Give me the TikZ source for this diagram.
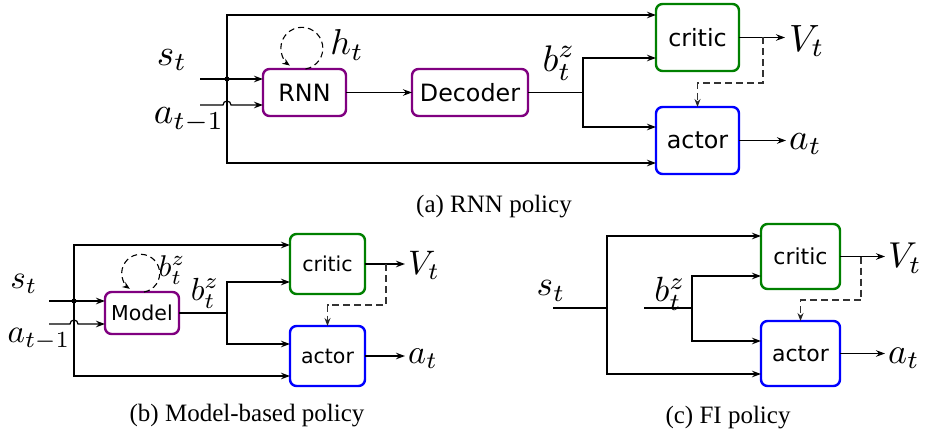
\RequirePackage{fix-cm}
\documentclass[tikz,border=0pt]{standalone}
\usepackage{fontspec}
\setmainfont{Liberation Serif}
\newfontfamily\boxfont{DejaVu Sans}
\usetikzlibrary{arrows.meta,calc}
\definecolor{cpurple}{RGB}{128,0,128}
\definecolor{cgreen}{RGB}{0,128,0}
\definecolor{cblue}{RGB}{0,0,255}
\newcommand{\mlab}[2]{\scalebox{#1}{$#2$}}
\begin{document}
\begin{tikzpicture}[x=1pt,y=-1pt,
  box/.style={draw, rounded corners=6.5pt, line width=2.4pt, inner sep=0pt, outer sep=0pt},
  boxa/.style={box, font=\boxfont\fontsize{23.8}{26}\selectfont},
  boxb/.style={box, font=\boxfont\fontsize{20.5}{23}\selectfont},
  boxc/.style={box, font=\boxfont\fontsize{22}{24}\selectfont},
  lab/.style={inner sep=0pt},
  captxt/.style={inner sep=0pt, font=\fontsize{25}{27}\selectfont},
  ln/.style={line width=1.2pt},
  con/.style={line width=1.2pt, -{Stealth[length=9pt,width=6.5pt]}},
  dsh/.style={line width=1.2pt, draw=black!80, dash pattern=on 7pt off 4pt, -{Stealth[length=8pt,width=6pt,color=black!85]}},
  loopdsh/.style={line width=1.1pt, dash pattern=on 6pt off 4pt, -{Stealth[length=7.5pt,width=6pt]}},
  dot/.style={circle, fill, inner sep=0pt, minimum size=5pt}]
\useasboundingbox (0,0) rectangle (925,433);

% ---------------- (a) RNN policy ----------------
\node[boxa, draw=cpurple, minimum width=83, minimum height=47] (rnn) at (304.5,92.5) {RNN};
\node[boxa, draw=cpurple, minimum width=116, minimum height=47] (dec) at (470,92.5) {Decoder};
\node[boxa, draw=cgreen, minimum width=83, minimum height=67] (crA) at (697.5,37.5) {critic};
\node[boxa, draw=cblue, minimum width=83, minimum height=67] (acA) at (697.5,140.5) {actor};

\coordinate (aS) at (227,79);
\coordinate (aT) at (227,15);
\coordinate (aBo) at (227,163);
\coordinate (sInA) at (200,79);
\coordinate (aInA) at (200,105);
\node[dot] (dA) at (aS) {};

\draw[con] (sInA) -- (sInA -| rnn.west);
\draw[con] (aInA) -- ++(23,0) arc[start angle=180, end angle=0, radius=4pt] -- (aInA -| rnn.west);
\draw[con] (aS) -- (aT) -- (aT -| crA.west);
\draw[con] (aS) -- (aBo) -- (aBo -| acA.west);
\draw[con] (rnn) -- (dec);

\coordinate (aB) at (583,92.5);
\coordinate (aBt) at (583,58);
\coordinate (aBb) at (583,127);
\draw[ln] (dec) -- (aB);
\draw[con] (aB) -- (aBt) -- (aBt -| crA.west);
\draw[con] (aB) -- (aBb) -- (aBb -| acA.west);

\node[lab] (stA) at (172,60) {\mlab{3.7}{s_t}};
\node[lab] (atmA) at (189,120) {\mlab{3.7}{a_{t-1}}};
\node[lab] (ht) at (347,45) {\mlab{3.6}{h_t}};
\node[lab] (bzA) at (559,63) {\mlab{3.7}{b_t^z}};
\node[lab, anchor=west] (VA) at (789,41) {\mlab{3.8}{V_t}};
\node[lab, anchor=west] (aoA) at (789,144) {\mlab{3.7}{a_t}};
\draw[con] (crA) -- ($(crA -| VA.west)+(-4,0)$);
\draw[con] (acA) -- ($(acA -| aoA.west)+(-3,0)$);

\coordinate (aD) at (763,37.5);
\draw[dsh] (aD) -- ++(0,45.5) -| (acA.north);
\draw[loopdsh] ([xshift=1pt]rnn.north) arc[start angle=-80, end angle=235, radius=21pt];

\node[captxt] (capA) at (494,207) {(a) RNN policy};

% ---------------- (b) Model-based policy ----------------
\node[boxb, draw=cpurple, minimum width=74, minimum height=42] (mod) at (142,313) {Model};
\node[boxb, draw=cgreen, minimum width=75, minimum height=60] (crB) at (327.5,264) {critic};
\node[boxb, draw=cblue, minimum width=75, minimum height=60] (acB) at (327.5,356) {actor};

\coordinate (bS) at (74,301);
\coordinate (bT) at (74,245);
\coordinate (bBo) at (74,376);
\coordinate (sInB) at (49,301);
\coordinate (aInB) at (49,324);
\node[dot] (dB) at (bS) {};

\draw[con] (sInB) -- (sInB -| mod.west);
\draw[con] (aInB) -- ++(21,0) arc[start angle=180, end angle=0, radius=4pt] -- (aInB -| mod.west);
\draw[con] (bS) -- (bT) -- (bT -| crB.west);
\draw[con] (bS) -- (bBo) -- (bBo -| acB.west);

\coordinate (bB) at (227,313);
\coordinate (bBt) at (227,282);
\coordinate (bBb) at (227,344);
\draw[ln] (mod) -- (bB);
\draw[con] (bB) -- (bBt) -- (bBt -| crB.west);
\draw[con] (bB) -- (bBb) -- (bBb -| acB.west);

\node[lab] (stB) at (24,284) {\mlab{3.3}{s_t}};
\node[lab] (atmB) at (39,339) {\mlab{3.3}{a_{t-1}}};
\node[lab] (bzloop) at (172,270) {\mlab{3.0}{b_t^z}};
\node[lab] (bzB) at (205,293) {\mlab{3.2}{b_t^z}};
\node[lab, anchor=west] (VB) at (408,265) {\mlab{3.4}{V_t}};
\node[lab, anchor=west] (aoB) at (408,359) {\mlab{3.4}{a_t}};
\draw[con] (crB) -- ($(crB -| VB.west)+(-3,0)$);
\draw[con] (acB) -- ($(acB -| aoB.west)+(-3,0)$);

\coordinate (bD) at (386,264);
\draw[dsh] (bD) -- ++(0,41) -| (acB.north);
\draw[loopdsh] ([xshift=2pt]mod.north) arc[start angle=-80, end angle=235, radius=19pt];

\node[captxt] (capB) at (247,416) {(b) Model-based policy};

% ---------------- (c) FI policy ----------------
\node[boxc, draw=cgreen, minimum width=79, minimum height=65] (crC) at (800.5,256.5) {critic};
\node[boxc, draw=cblue, minimum width=79, minimum height=65] (acC) at (800.5,353.5) {actor};

\coordinate (cS) at (607,308);
\coordinate (cT) at (607,236);
\coordinate (cBo) at (607,374);
\coordinate (sInC) at (553,308);
\draw[ln] (sInC) -- (cS);
\draw[con] (cS) -- (cT) -- (cT -| crC.west);
\draw[con] (cS) -- (cBo) -- (cBo -| acC.west);

\coordinate (bInC) at (644,308);
\coordinate (cB) at (692,308);
\coordinate (cBt) at (692,276);
\coordinate (cBb) at (692,341);
\draw[ln] (bInC) -- (cB);
\draw[con] (cB) -- (cBt) -- (cBt -| crC.west);
\draw[con] (cB) -- (cBb) -- (cBb -| acC.west);

\node[lab] (stC) at (551,291) {\mlab{3.5}{s_t}};
\node[lab] (bzC) at (670,294) {\mlab{3.5}{b_t^z}};
\node[lab, anchor=west] (VC) at (888,258) {\mlab{3.6}{V_t}};
\node[lab, anchor=west] (aoC) at (888,358) {\mlab{3.6}{a_t}};
\draw[con] (crC) -- ($(crC -| VC.west)+(-3,0)$);
\draw[con] (acC) -- ($(acC -| aoC.west)+(-3,0)$);

\coordinate (cD) at (861,256.5);
\draw[dsh] (cD) -- ++(0,43.5) -| (acC.north);

\node[captxt] (capC) at (728,418) {(c) FI policy};
\end{tikzpicture}
\end{document}
